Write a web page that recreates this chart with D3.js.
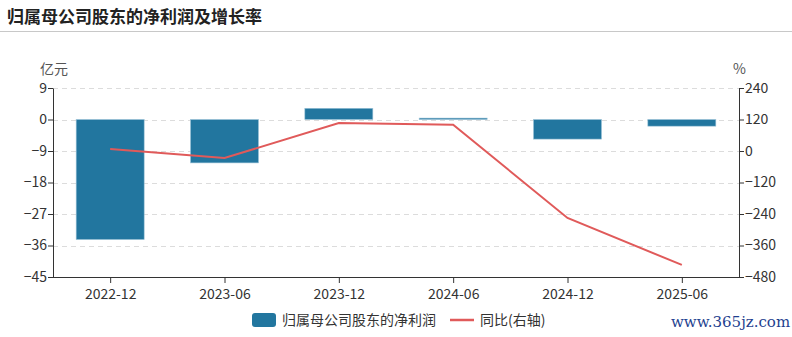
<!DOCTYPE html>
<html>
<head>
<meta charset="utf-8">
<script src="https://cdn.jsdelivr.net/npm/d3@7/dist/d3.min.js"></script>
<style>
  html, body { margin: 0; padding: 0; background: #fff; }
  svg { display: block; font-family: "Noto Sans CJK SC", "Noto Sans", sans-serif; }
</style>
</head>
<body>
<svg id="chart" width="792" height="337"></svg>
<script>
// Reporting periods
const categories = ["2022-12", "2023-06", "2023-12", "2024-06", "2024-12", "2025-06"];
// Net profit attributable to parent shareholders (亿元)
const netProfit = [-34.3, -12.4, 3.2, 0.4, -5.6, -1.9];
// Year-over-year growth (%)
const yoyGrowth = [7.6, -26.7, 106.7, 100, -255, -434];
// Axis ticks
const leftTicks = [9, 0, -9, -18, -27, -36, -45];
const rightTicks = [240, 120, 0, -120, -240, -360, -480];

const svg = d3.select("#chart");
const W = 792;
const plotL = 53, plotR = 739, plotT = 88, plotB = 277;

const barColor = "#22769f";
const lineColor = "#e05a5a";
const textColor = "#333";

// Title and separator
svg.append("text")
  .attr("x", 7).attr("y", 23)
  .attr("font-size", 17).attr("font-weight", "bold").attr("fill", "#222")
  .text("归属母公司股东的净利润及增长率");
svg.append("line")
  .attr("x1", 0).attr("x2", W).attr("y1", 31.5).attr("y2", 31.5)
  .attr("stroke", "#c8c8c8").attr("stroke-width", 1);

const xc = d3.scalePoint().domain(categories).range([plotL, plotR]).padding(0.5);
const yL = d3.scaleLinear().domain([-45, 9]).range([plotB, plotT]);
const yR = d3.scaleLinear().domain([-480, 240]).range([plotB, plotT]);

// Horizontal dashed grid
svg.append("g").selectAll("line").data(leftTicks).join("line")
  .attr("x1", plotL).attr("x2", plotR)
  .attr("y1", d => Math.round(yL(d)) + 0.5).attr("y2", d => Math.round(yL(d)) + 0.5)
  .attr("stroke", "#dcdcdc").attr("stroke-dasharray", "5,4").attr("stroke-width", 1);

// Bars
const bw = 68;
svg.append("g").selectAll("rect").data(netProfit).join("rect")
  .attr("x", (d, i) => xc(categories[i]) - bw / 2)
  .attr("width", bw)
  .attr("y", d => yL(Math.max(0, d)))
  .attr("height", d => Math.abs(yL(d) - yL(0)))
  .attr("fill", barColor)
  .attr("stroke", "#9cc3d8").attr("stroke-width", 0.6);

// Growth line
const line = d3.line().x((d, i) => xc(categories[i])).y(d => yR(d));
svg.append("path").datum(yoyGrowth)
  .attr("d", line).attr("fill", "none")
  .attr("stroke", lineColor).attr("stroke-width", 2);

// Left axis
const gL = svg.append("g").attr("transform", `translate(${plotL},0)`)
  .call(d3.axisLeft(yL).tickValues(leftTicks).tickSize(5).tickSizeOuter(0).tickFormat(d3.format("d")));
// Right axis
const gR = svg.append("g").attr("transform", `translate(${plotR},0)`)
  .call(d3.axisRight(yR).tickValues(rightTicks).tickSize(5).tickSizeOuter(0).tickFormat(d3.format("d")));
// Bottom axis
const gB = svg.append("g").attr("transform", `translate(0,${plotB})`)
  .call(d3.axisBottom(xc).tickSize(6).tickSizeOuter(0).tickPadding(6));
gB.select(".domain").attr("d", `M${plotL},0.5H${plotR}`);

[gL, gR, gB].forEach(g => {
  g.select(".domain").attr("stroke", "#333");
  g.selectAll(".tick line").attr("stroke", "#333");
  g.selectAll("text").attr("fill", textColor).attr("font-size", 14)
    .attr("font-family", "\"Noto Sans CJK SC\", sans-serif");
});
gL.selectAll("text").attr("x", -6);
gR.selectAll("text").attr("x", 6);

// Units
svg.append("text").attr("x", 40).attr("y", 74).attr("font-size", 14).attr("fill", "#555").text("亿元");
svg.append("text").attr("x", 733).attr("y", 74).attr("font-size", 14).attr("fill", "#555").text("%");

// Legend
const lg = svg.append("g");
lg.append("rect").attr("x", 252).attr("y", 313).attr("width", 24).attr("height", 14).attr("rx", 3).attr("fill", barColor);
lg.append("text").attr("x", 282).attr("y", 325).attr("font-size", 14).attr("fill", textColor).text("归属母公司股东的净利润");
lg.append("line").attr("x1", 450).attr("x2", 474).attr("y1", 320).attr("y2", 320).attr("stroke", lineColor).attr("stroke-width", 2.5);
lg.append("text").attr("x", 480).attr("y", 325).attr("font-size", 14).attr("fill", textColor).text("同比(右轴)");

// Site mark
svg.append("text").attr("x", 671).attr("y", 327).attr("font-size", 15)
  .attr("font-family", "\"DejaVu Serif\", serif").attr("fill", "#1f3f8f").text("www.365jz.com");
</script>
</body>
</html>
